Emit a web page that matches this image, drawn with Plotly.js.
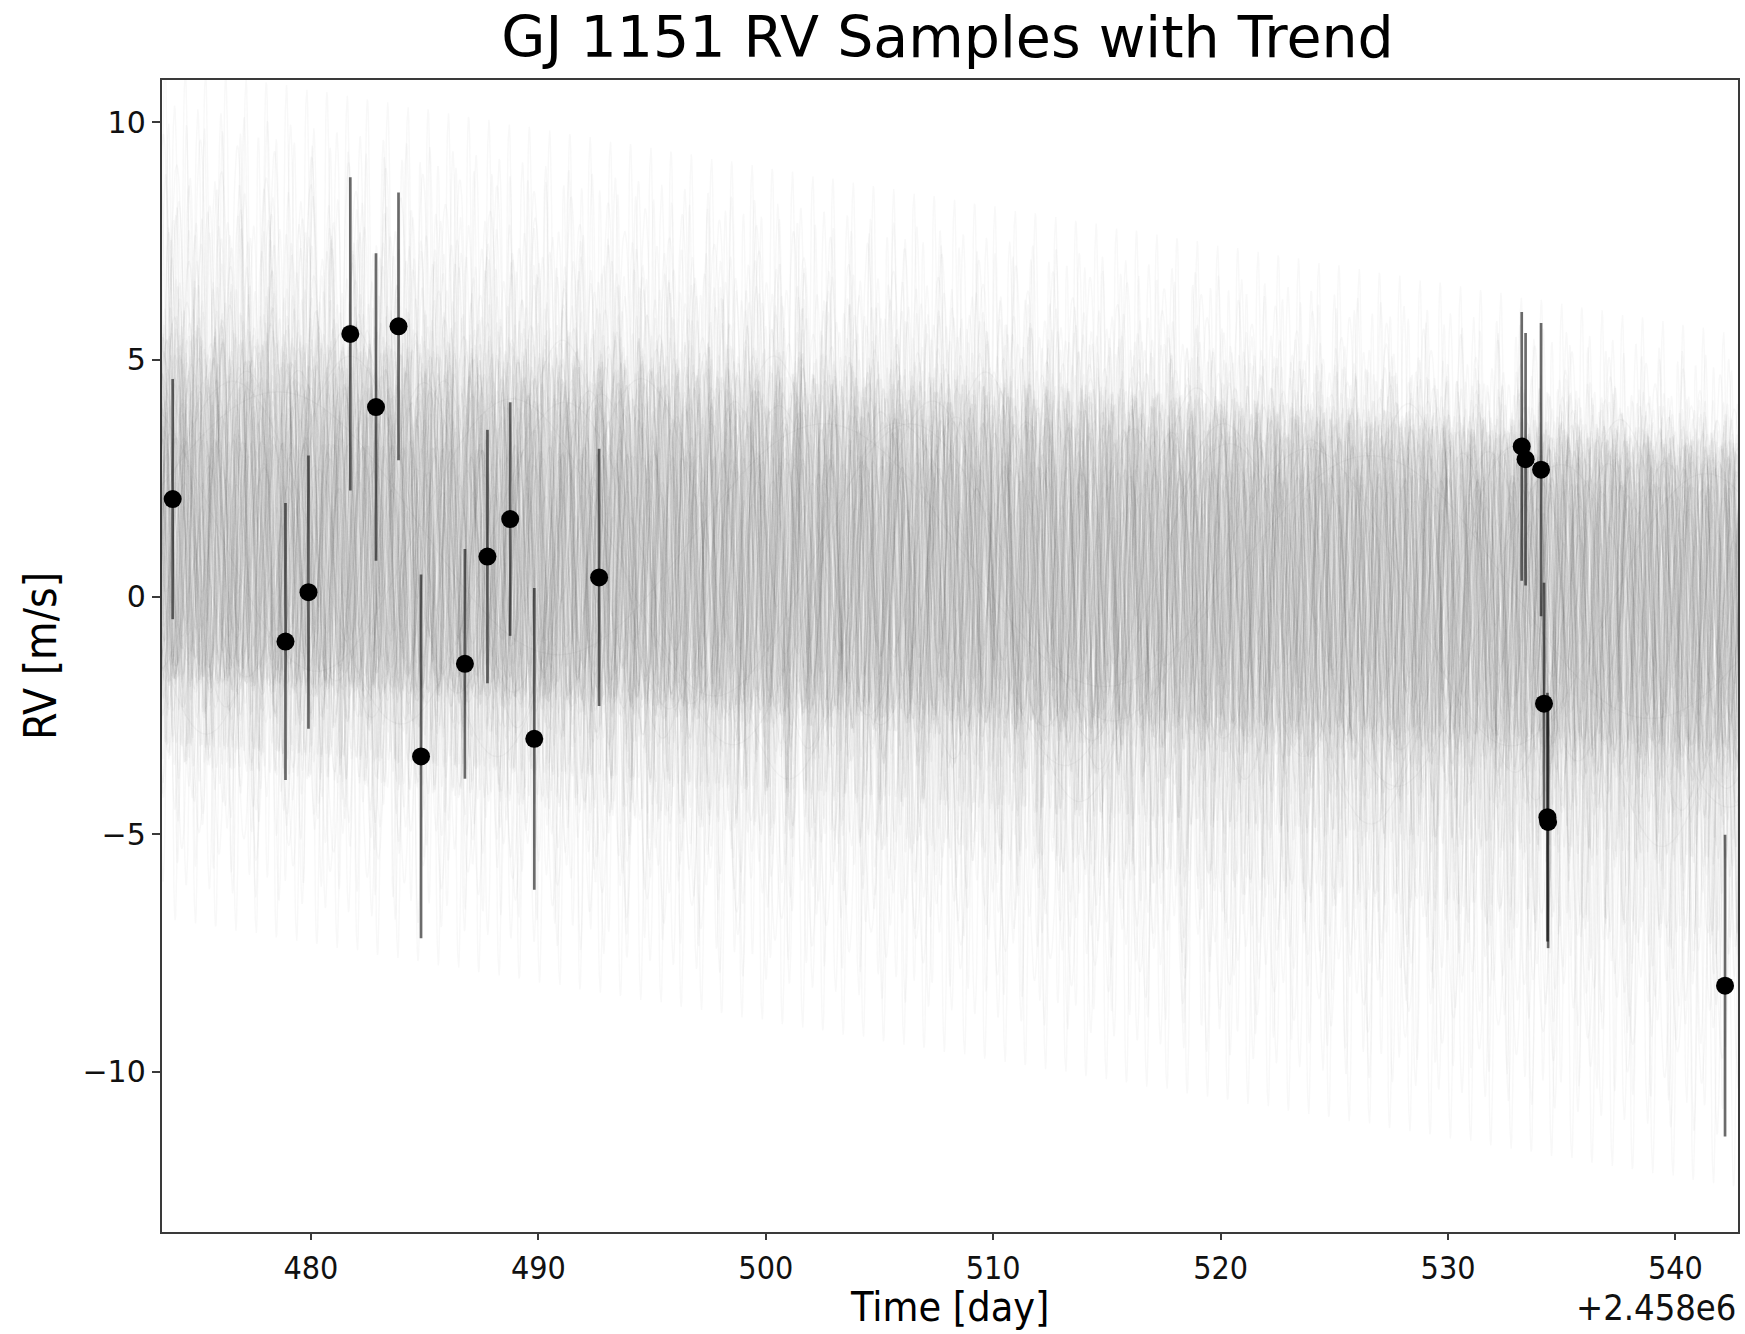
<!DOCTYPE html>
<html>
<head>
<meta charset="utf-8">
<script src="https://cdn.plot.ly/plotly-3.0.1.min.js"></script>
<style>html,body{margin:0;padding:0;background:#fff;}</style>
</head>
<body>
<div id="chart" style="width:1745px;height:1334px;"></div>
<script>
// ---- Observed RVs (time in BJD - 2458000) ----
const timeOffsetLabel = "+2.458e6";
const xTitle = "Time [day]";
const obsTime = [473.92, 478.88, 479.89, 481.73, 482.86, 483.85, 484.84, 486.77, 487.76, 488.76, 489.82, 492.67,
                 533.24, 533.41, 534.09, 534.22, 534.37, 534.40, 542.18];
const obsRV   = [2.06, -0.94, 0.10, 5.54, 4.00, 5.70, -3.36, -1.41, 0.85, 1.64, -2.99, 0.41,
                 3.17, 2.90, 2.68, -2.25, -4.64, -4.74, -8.19];
const obsErr  = [2.53, 2.92, 2.88, 3.30, 3.24, 2.82, 3.83, 2.42, 2.67, 2.46, 3.18, 2.71,
                 2.83, 2.66, 3.09, 2.55, 2.62, 2.66, 3.18];

// ---- Posterior sample parameters (sinusoid + linear trend), epoch 508 ----
const refEpoch = 508.0;
const samplePeriod = [1.12,0.93,1.47,2.05,0.78,1.31,1.68,0.87,1.05,2.41,
                      1.23,0.96,1.54,1.89,0.82,1.38,1.16,2.27,0.91,1.61,
                      1.02,1.44,0.75,1.79,1.27,2.12,0.99,1.35,1.58,0.86,
                      1.21,1.97,1.09,0.81,1.49,2.33,1.14,0.94,1.72,1.29,
                      6.4,1.07,1.83,0.89,1.41,2.19,1.18,0.97,1.63,9.3,
                      1.25,0.84,1.52,2.02,1.11,1.36,0.92,12.8,1.76,1.03,
                      1.45,0.79,1.93,1.19,17.5,1.33,0.88,1.57,2.24,1.08,
                      24.0,1.42,1.15,0.98,1.66,2.09,0.83,1.28,1.51,0.95,
                      1.87,1.13,7.8,1.39,0.90,2.15,1.24,1.01,1.70,0.77,
                      1.34,2.38,1.06,14.6,1.56,0.85,1.20,1.92,1.10,1.48];
const sampleK = [2.9,3.7,2.0,3.4,5.0,2.7,2.3,4.2,3.1,1.8,
                 6.6,3.5,2.6,4.0,1.6,3.3,5.4,2.2,3.6,3.0,
                 8.2,2.8,4.4,1.9,2.5,3.8,5.7,3.2,1.5,4.1,
                 3.4,7.0,2.6,4.6,2.1,2.9,6.0,3.6,2.7,1.7,
                 3.6,3.0,5.2,9.0,3.3,2.4,3.7,2.5,7.5,3.8,
                 2.8,4.8,2.0,3.5,4.0,6.3,3.1,4.1,2.2,4.2,
                 2.7,7.8,3.4,1.8,3.0,5.5,3.0,3.9,2.1,6.8,
                 2.6,4.1,3.2,4.5,2.4,3.6,5.0,2.9,3.8,1.9,
                 3.3,4.3,3.2,2.6,5.8,3.1,2.3,4.7,3.5,2.8,
                 6.2,3.0,3.9,3.5,2.5,4.4,3.7,2.0,5.3,3.2];
const samplePhase = [0.12,0.57,0.83,0.31,0.66,0.05,0.44,0.91,0.27,0.72,
                     0.38,0.14,0.61,0.95,0.22,0.49,0.78,0.03,0.35,0.69,
                     0.58,0.86,0.17,0.42,0.74,0.29,0.63,0.08,0.51,0.97,
                     0.25,0.46,0.89,0.13,0.67,0.36,0.02,0.55,0.81,0.19,
                     0.71,0.33,0.48,0.92,0.15,0.59,0.26,0.84,0.41,0.07,
                     0.65,0.23,0.76,0.39,0.98,0.11,0.53,0.30,0.87,0.45,
                     0.18,0.62,0.04,0.79,0.34,0.93,0.21,0.56,0.68,0.09,
                     0.47,0.73,0.28,0.85,0.52,0.16,0.94,0.37,0.61,0.06,
                     0.43,0.77,0.20,0.99,0.32,0.58,0.10,0.70,0.24,0.88,
                     0.54,0.01,0.66,0.40,0.82,0.15,0.49,0.96,0.27,0.63];
const sampleGamma = [0.3,0.8,0.0,0.7,-0.3,1.0,0.4,0.1,0.9,0.5,
                     -0.2,0.6,0.2,1.1,-0.1,0.8,0.3,-0.4,0.7,0.4,
                     -0.5,0.9,0.1,0.6,0.0,1.0,0.2,0.5,1.2,-0.2,
                     0.7,-0.3,0.3,0.8,0.1,0.6,-0.1,0.9,0.4,1.1,
                     0.2,0.5,0.0,-0.6,0.8,0.3,0.7,0.1,-0.3,1.0,
                     0.4,-0.1,0.9,0.2,0.6,-0.2,0.8,0.0,0.5,0.7,
                     0.3,-0.4,1.0,0.1,0.6,0.0,0.8,0.4,0.2,-0.3,
                     0.9,0.5,0.6,0.1,1.1,0.3,-0.2,0.7,0.2,0.9,
                     0.4,0.0,0.6,0.8,-0.1,0.5,1.0,0.2,0.6,0.3,
                     -0.2,0.7,0.4,0.1,0.9,0.0,0.5,0.8,-0.1,0.6];
const sampleSlope = [-0.026,-0.030,-0.016,-0.028,-0.055,-0.022,-0.019,-0.034,-0.027,-0.014,
                     -0.068,-0.031,-0.020,-0.033,-0.013,-0.025,-0.058,-0.018,-0.030,-0.024,
                     -0.078,-0.023,-0.036,-0.015,-0.021,-0.032,-0.060,-0.027,-0.012,-0.035,
                     -0.028,-0.071,-0.020,-0.038,-0.017,-0.025,-0.063,-0.031,-0.022,-0.014,
                     -0.034,-0.025,-0.056,-0.082,-0.027,-0.019,-0.032,-0.021,-0.074,-0.036,
                     -0.023,-0.040,-0.016,-0.029,-0.034,-0.066,-0.026,-0.037,-0.018,-0.035,
                     -0.022,-0.076,-0.029,-0.015,-0.030,-0.059,-0.024,-0.033,-0.017,-0.070,
                     -0.028,-0.035,-0.026,-0.039,-0.020,-0.030,-0.054,-0.024,-0.032,-0.015,
                     -0.027,-0.036,-0.031,-0.021,-0.061,-0.026,-0.019,-0.041,-0.029,-0.023,
                     -0.065,-0.025,-0.033,-0.030,-0.020,-0.037,-0.031,-0.016,-0.057,-0.027];

const xRange = [473.45, 542.75];
const yRange = [-13.38, 10.89];
const xTicks = [480, 490, 500, 510, 520, 530, 540];
const yTicks = [-10, -5, 0, 5, 10];
const yTickText = ['\u221210', '\u22125', '0', '5', '10'];

// model evaluation grid
const gridStep = 0.025;
const grid = [];
for (let t = xRange[0] - 0.2; t <= xRange[1] + 0.2; t += gridStep) grid.push(t);

const traces = [];
for (let i = 0; i < samplePeriod.length; i++) {
  const y = grid.map(t => sampleGamma[i] + sampleSlope[i] * (t - refEpoch) +
      sampleK[i] * Math.sin(2 * Math.PI * ((t - refEpoch) / samplePeriod[i] + samplePhase[i])));
  traces.push({
    type: 'scatter', mode: 'lines', x: grid, y: y,
    line: {color: 'rgba(60,60,60,0.036)', width: 1.4},
    hoverinfo: 'skip', showlegend: false
  });
}

traces.push({
  type: 'scatter', mode: 'markers', x: obsTime, y: obsRV,
  error_y: {type: 'data', array: obsErr, visible: true, color: 'rgba(0,0,0,0.58)', thickness: 2.7, width: 0},
  marker: {color: '#000', size: 18},
  showlegend: false
});

const condensed = '"DejaVu Sans Condensed", "DejaVu Sans", sans-serif';
const regular = '"DejaVu Sans", sans-serif';

const layout = {
  width: 1745, height: 1334,
  margin: {l: 162, r: 7, t: 80, b: 102, pad: 0},
  paper_bgcolor: '#fff', plot_bgcolor: '#fff',
  title: {text: 'GJ 1151 RV Samples with Trend', x: 0.543, xref: 'container', y: 0.972, yref: 'container',
          xanchor: 'center', yanchor: 'middle', font: {family: regular, size: 57, color: '#000'}},
  xaxis: {
    range: xRange, tickvals: xTicks, ticktext: xTicks.map(String),
    showgrid: false, zeroline: false, showline: true, mirror: true,
    linecolor: '#3a3a3a', linewidth: 2.2, ticks: 'outside', ticklen: 6, tickwidth: 2, tickcolor: '#3a3a3a',
    tickfont: {family: condensed, size: 32, color: '#111'}
  },
  yaxis: {
    range: yRange, tickvals: yTicks, ticktext: yTickText,
    showgrid: false, zeroline: false, showline: true, mirror: true,
    linecolor: '#3a3a3a', linewidth: 2.2, ticks: 'outside', ticklen: 8, tickwidth: 2, tickcolor: '#3a3a3a',
    tickfont: {family: regular, size: 30, color: '#111'},
    title: {text: 'RV [m/s]', font: {family: condensed, size: 44, color: '#000'}, standoff: 12}
  },
  annotations: [{
    text: xTitle, xref: 'paper', yref: 'paper', x: 0.5, y: -0.0655,
    xanchor: 'center', yanchor: 'middle', showarrow: false,
    font: {family: condensed, size: 41, color: '#000'}
  }, {
    text: timeOffsetLabel, xref: 'paper', yref: 'paper', x: 1.0, y: -0.0655,
    xanchor: 'right', yanchor: 'middle', showarrow: false,
    font: {family: condensed, size: 36, color: '#111'}
  }]
};

Plotly.newPlot('chart', traces, layout, {displayModeBar: false, staticPlot: true});
</script>
</body>
</html>
